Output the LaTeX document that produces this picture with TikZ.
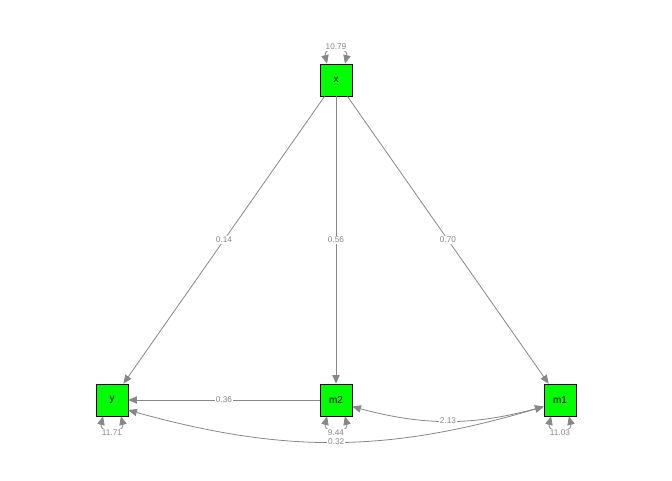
\documentclass[tikz,border=0pt]{standalone}
\usepackage{fontspec}
\setmainfont{Liberation Sans}
\usetikzlibrary{arrows.meta,positioning}
\definecolor{semgreen}{RGB}{0,255,0}
\definecolor{edgegray}{RGB}{135,135,135}

\begin{document}
\begin{tikzpicture}[x=0.75pt,y=-0.75pt,
  var/.style={draw=black,fill=semgreen,minimum size=24pt,inner sep=0pt,
    font=\fontsize{7.5}{8}\selectfont},
  regr/.style={draw=edgegray,line width=0.6pt,-{Triangle[length=6.5pt,width=5.5pt]}},
  covar/.style={draw=edgegray,line width=0.6pt,
    {Triangle[length=6.5pt,width=5.5pt]}-{Triangle[length=6.5pt,width=5.5pt]}},
  coef/.style={fill=white,text=edgegray,inner sep=0.6pt,
    font=\fontsize{6.2}{7}\selectfont}]
\useasboundingbox (0,0) rectangle (672,480);
% variables
\node[var] (x) at (336,80) {x};
\node[var] (y) at (112,400) {y};
\node[var] (m2) at (336,400) {m2};
\node[var] (m1) at (560,400) {m1};
% regressions
\draw[regr] (x) -- node[coef] {0.14} (y);
\draw[regr] (x) -- node[coef] {0.56} (m2);
\draw[regr] (x) -- node[coef] {0.70} (m1);
\draw[regr] (m2) -- node[coef] {0.36} (y);
% curved edges
\draw[covar] (m1.202) to[bend left=15] node[coef] {2.13} (m2.-22);
\draw[covar] (m1.202) to[bend left=16] node[coef] {0.32} (y.-32);
% residuals
\draw[covar] ([xshift=-6.75pt]x.north) .. controls +(-4,-17) and +(4,-17) .. node[coef,pos=0.5,yshift=3pt] {10.79} ([xshift=6.75pt]x.north);
\draw[covar] ([xshift=-6.75pt]y.south) .. controls +(-4,17) and +(4,17) .. node[coef,pos=0.5,yshift=-3pt] {11.71} ([xshift=6.75pt]y.south);
\draw[covar] ([xshift=-6.75pt]m2.south) .. controls +(-4,17) and +(4,17) .. node[coef,pos=0.5,yshift=-3pt] {9.44} ([xshift=6.75pt]m2.south);
\draw[covar] ([xshift=-6.75pt]m1.south) .. controls +(-4,17) and +(4,17) .. node[coef,pos=0.5,yshift=-3pt] {11.03} ([xshift=6.75pt]m1.south);
\end{tikzpicture}
\end{document}
